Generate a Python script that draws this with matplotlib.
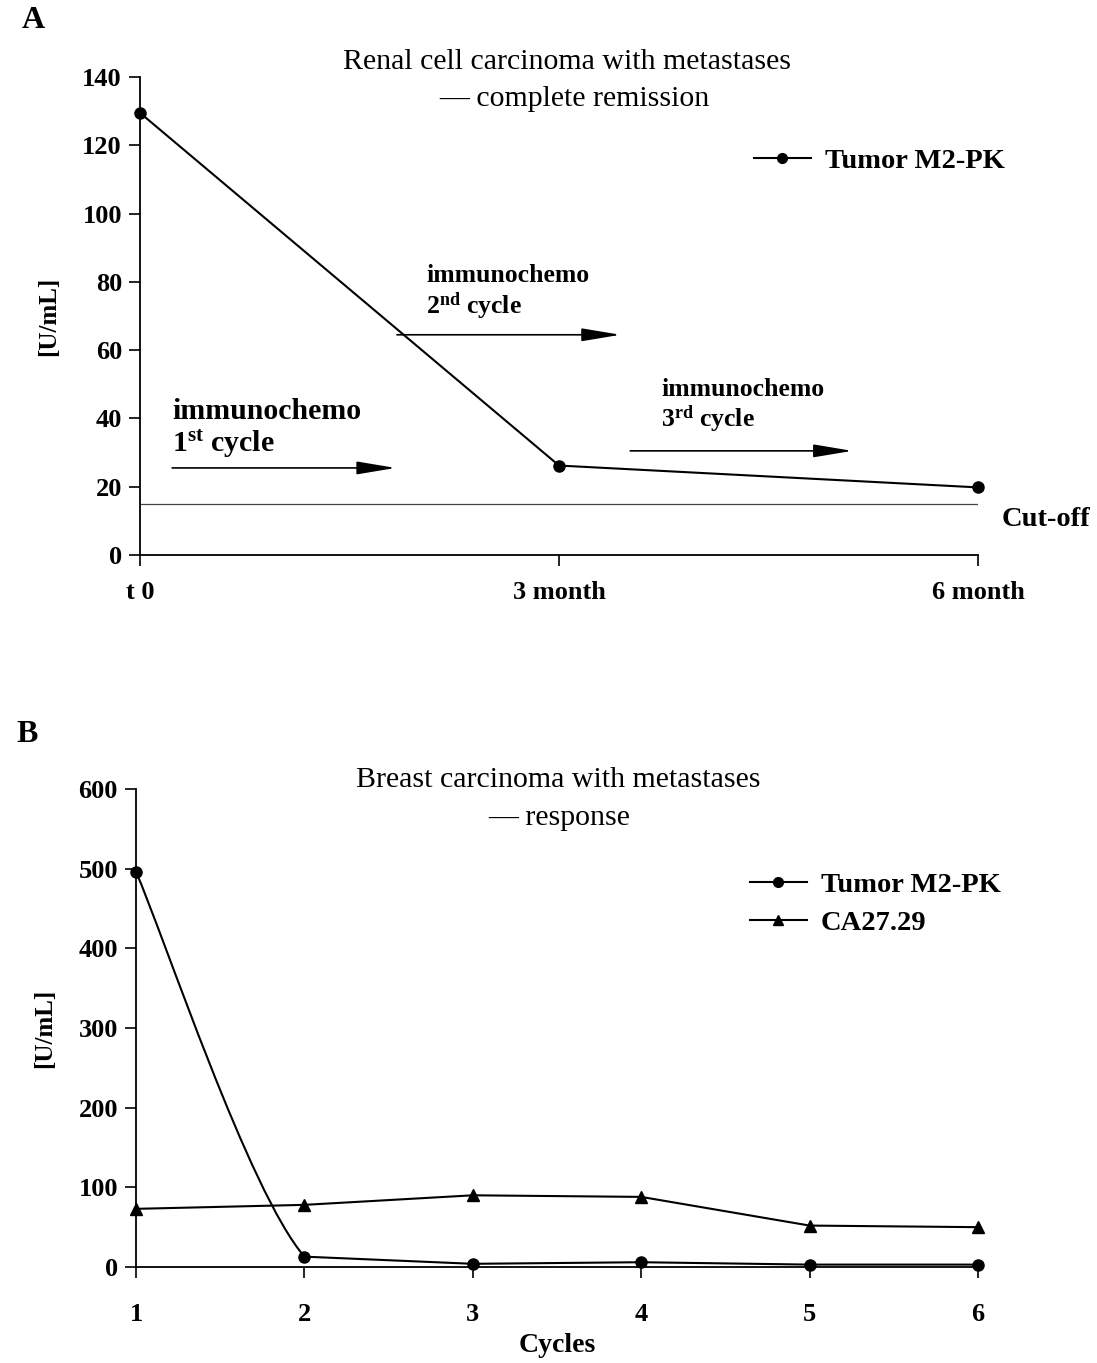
import numpy as np
import matplotlib
matplotlib.use('Agg')
import matplotlib.pyplot as plt
from matplotlib.path import Path
from matplotlib.patches import PathPatch

plt.rcParams['font.family'] = ['Liberation Serif', 'DejaVu Serif']
plt.rcParams['mathtext.fontset'] = 'custom'
plt.rcParams['mathtext.rm'] = 'Liberation Serif'
plt.rcParams['mathtext.bf'] = 'Liberation Serif:bold'
plt.rcParams['mathtext.it'] = 'Liberation Serif:italic'

# panel A data
a_x = [0, 3, 6]
a_labels = ['t 0', '3 month', '6 month']
a_m2pk = [129.5, 26.2, 19.8]
a_cutoff = 15
a_yticks = [0, 20, 40, 60, 80, 100, 120, 140]

# panel B data
b_cycles = [1, 2, 3, 4, 5, 6]
b_m2pk = [496, 13, 4, 6, 3, 3]
b_ca2729 = [73, 78, 90, 88, 52, 50]
b_yticks = [0, 100, 200, 300, 400, 500, 600]

W, H = 1097, 1363
fig = plt.figure(figsize=(W / 100, H / 100), dpi=100)


def fx(px):
    return px / W


def fy(py):
    return 1 - py / H


def style_axes(ax, xpad):
    for s in ['top', 'right']:
        ax.spines[s].set_visible(False)
    for s in ['left', 'bottom']:
        ax.spines[s].set_linewidth(1.3)
    ax.tick_params(axis='y', direction='out', length=8, width=1.2, pad=5, labelsize=19)
    ax.tick_params(axis='x', direction='out', length=8, width=1.2, pad=xpad, labelsize=19)
    for lab in ax.get_xticklabels() + ax.get_yticklabels():
        lab.set_fontweight('bold')


# ---------------- panel A ----------------
axA = fig.add_axes([fx(140), fy(555), fx(978) - fx(140), fy(77) - fy(555)])
axA.set_xlim(0, 6)
axA.set_ylim(0, 140)
axA.set_yticks(a_yticks)
axA.set_xticks(a_x)
axA.set_xticklabels(a_labels)
style_axes(axA, 11)
axA.plot(a_x, a_m2pk, color='black', lw=1.5, marker='o', ms=8, clip_on=False)
axA.plot([0, 6], [a_cutoff, a_cutoff], color='#444444', lw=0.9)
axA.set_ylabel('[U/mL]', fontsize=18, fontweight='bold', labelpad=16)

arrows_A = [((0.23, 25.5), (1.83, 25.5)), ((1.84, 64.5), (3.44, 64.5)), ((3.51, 30.5), (5.10, 30.5))]
for (x0, y0), (x1, y1) in arrows_A:
    axA.annotate('', xy=(x1, y1), xytext=(x0, y0),
                 arrowprops=dict(arrowstyle='-|>,head_length=2.4,head_width=0.4',
                                 color='black', lw=1.2, shrinkA=0, shrinkB=0))

axA.text(0.23, 42, 'immunochemo', fontsize=21.5, fontweight='bold', va='center', ha='left')
axA.text(0.23, 32.5, r'1$^{\mathbf{st}}$ cycle', fontsize=21.5, fontweight='bold', va='center', ha='left')
axA.text(2.05, 82, 'immunochemo', fontsize=18.5, fontweight='bold', va='center', ha='left')
axA.text(2.05, 73, r'2$^{\mathbf{nd}}$ cycle', fontsize=18.5, fontweight='bold', va='center', ha='left')
axA.text(3.73, 48.5, 'immunochemo', fontsize=18.5, fontweight='bold', va='center', ha='left')
axA.text(3.73, 40, r'3$^{\mathbf{rd}}$ cycle', fontsize=18.5, fontweight='bold', va='center', ha='left')

fig.text(fx(567), fy(62), 'Renal cell carcinoma with metastases', fontsize=21.5, ha='center', va='center')
fig.text(fx(574), fy(99), '\u2014 complete remission', fontsize=21.5, ha='center', va='center')
fig.text(fx(1002), fy(520), 'Cut-off', fontsize=20.5, fontweight='bold', ha='left', va='center')
fig.text(fx(33), fy(20), 'A', fontsize=23, fontweight='bold', ha='center', va='center')

axA.plot([], [], color='black', lw=1.5, marker='o', ms=7, label='Tumor M2-PK')
axA.legend(loc='upper left', bbox_to_anchor=(fx(728), fy(122)), bbox_transform=fig.transFigure,
           frameon=False, prop={'weight': 'bold', 'size': 20.5}, handlelength=2.0, handletextpad=0.5)

# ---------------- panel B ----------------
axB = fig.add_axes([fx(136), fy(1267), fx(978) - fx(136), fy(789) - fy(1267)])
axB.set_xlim(1, 6)
axB.set_ylim(0, 600)
axB.set_yticks(b_yticks)
axB.set_xticks(b_cycles)
style_axes(axB, 18)
axB.set_xlabel('Cycles', fontsize=20, fontweight='bold', labelpad=5)
axB.set_ylabel('[U/mL]', fontsize=18, fontweight='bold', labelpad=16)

# smoothed first segment (Catmull-Rom style Bezier built from the data points)
p0 = np.array([b_cycles[0], b_m2pk[0]], dtype=float)
p1 = np.array([b_cycles[1], b_m2pk[1]], dtype=float)
p2 = np.array([b_cycles[2], b_m2pk[2]], dtype=float)
c1 = p0 + (p1 - p0) / 6
c2 = p1 - (p2 - p0) / 6
verts = [tuple(p0), tuple(c1), tuple(c2), tuple(p1)]
codes = [Path.MOVETO, Path.CURVE4, Path.CURVE4, Path.CURVE4]
axB.add_patch(PathPatch(Path(verts, codes), fill=False, color='black', lw=1.5))
axB.plot(b_cycles[1:], b_m2pk[1:], color='black', lw=1.5)
axB.plot(b_cycles, b_m2pk, ls='none', marker='o', ms=8, color='black', clip_on=False)
axB.plot(b_cycles, b_ca2729, color='black', lw=1.5, marker='^', ms=9, clip_on=False)

fig.text(fx(558), fy(780), 'Breast carcinoma with metastases', fontsize=21.5, ha='center', va='center')
fig.text(fx(559), fy(818), '\u2014 response', fontsize=21.5, ha='center', va='center')
fig.text(fx(27), fy(735), 'B', fontsize=23, fontweight='bold', ha='center', va='center')

axB.plot([], [], color='black', lw=1.5, marker='o', ms=7, label='Tumor M2-PK')
axB.plot([], [], color='black', lw=1.5, marker='^', ms=7, label='CA27.29')
axB.legend(loc='upper left', bbox_to_anchor=(fx(724), fy(846)), bbox_transform=fig.transFigure,
           frameon=False, prop={'weight': 'bold', 'size': 20.5}, handlelength=2.0, handletextpad=0.5,
           labelspacing=0.45)

fig.savefig('out.png', dpi=100)
